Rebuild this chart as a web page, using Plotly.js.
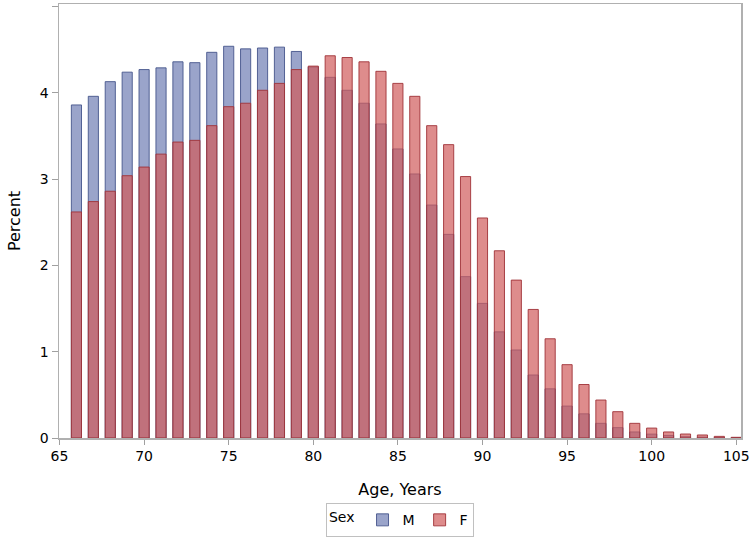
<!DOCTYPE html>
<html>
<head>
<meta charset="utf-8">
<script src="https://cdn.plot.ly/plotly-3.0.1.min.js"></script>
<style>html,body{margin:0;padding:0;background:#fff;}#chart{width:750px;height:538px;}</style>
</head>
<body>
<div id="chart"></div>
<script>
const ages = [66,67,68,69,70,71,72,73,74,75,76,77,78,79,80,81,82,83,84,85,86,87,88,89,90,91,92,93,94,95,96,97,98,99,100,101,102,103,104,105];
const malePct = [3.86,3.96,4.13,4.24,4.27,4.29,4.36,4.35,4.47,4.54,4.51,4.52,4.53,4.48,4.30,4.18,4.03,3.88,3.64,3.35,3.06,2.70,2.36,1.87,1.56,1.23,1.02,0.73,0.57,0.37,0.28,0.17,0.12,0.07,0.045,0.03,0.015,0.01,0.005,0.003];
const femalePct = [2.62,2.74,2.86,3.04,3.14,3.29,3.43,3.45,3.62,3.84,3.88,4.03,4.11,4.27,4.31,4.43,4.41,4.36,4.25,4.11,3.96,3.62,3.40,3.03,2.55,2.17,1.83,1.49,1.15,0.85,0.62,0.44,0.305,0.17,0.115,0.07,0.046,0.035,0.019,0.008];
const xTicks = [65,70,75,80,85,90,95,100,105];
const yTicks = [0,1,2,3,4,5];

const font = {family: '"DejaVu Sans", Verdana, sans-serif', size: 14, color: '#000'};

const traces = [
  {type:'bar', x: ages, y: malePct, name:'M', width: 0.6,
   marker:{color:'rgba(111,126,179,0.7)', line:{color:'rgba(70,85,140,0.9)', width:1}}},
  {type:'bar', x: ages, y: femalePct, name:'F', width: 0.6,
   marker:{color:'rgba(208,91,91,0.7)', line:{color:'rgba(160,50,55,0.9)', width:1}}}
];

const layout = {
  width: 750, height: 538,
  margin: {l:59, r:9, t:4, b:100},
  barmode: 'overlay',
  paper_bgcolor: '#fff', plot_bgcolor: '#fff',
  font: font,
  showlegend: true,
  xaxis: {
    range: [64.97, 105.28], tickvals: xTicks, ticktext: xTicks.map(String),
    ticks: 'outside', ticklen: 5, tickcolor: '#a0a0a0', tickwidth: 1,
    showgrid: false, zeroline: false,
    showline: true, mirror: true, linecolor: '#b0b0b0', linewidth: 1.5,
    tickfont: {size: 14},
    automargin: false,
    title: {text: 'Age, Years', font: {size: 16}, standoff: 20}
  },
  yaxis: {
    range: [0, 5.03], tickvals: yTicks, ticktext: yTicks.map(String),
    ticks: 'outside', ticklen: 6, tickcolor: '#a0a0a0', tickwidth: 1,
    showgrid: false, zeroline: false,
    showline: true, mirror: true, linecolor: '#b0b0b0', linewidth: 1.5,
    tickfont: {size: 14},
    automargin: false,
    title: {text: 'Percent', font: {size: 16}, standoff: 15}
  },
  legend: {
    orientation: 'h', xref: 'container', yref: 'container',
    x: 0.5333, xanchor: 'center', y: 0.033, yanchor: 'middle',
    bordercolor: '#c0c0c0', borderwidth: 1,
    title: {text: 'Sex', side: 'left', font: {size: 14}},
    font: {size: 14}, traceorder: 'normal',
    itemwidth: 30
  }
};

Plotly.newPlot('chart', traces, layout, {displayModeBar: false, staticPlot: true});
</script>
</body>
</html>
